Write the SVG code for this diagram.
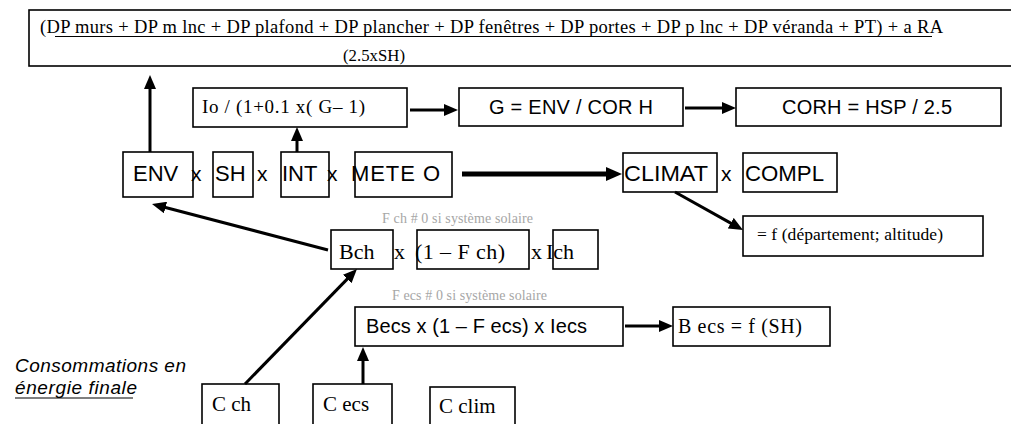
<svg xmlns="http://www.w3.org/2000/svg" width="1011" height="424" viewBox="0 0 1011 424">
<style>
.box{fill:#fff;stroke:#000;stroke-width:1.6}
.serif{font-family:"Liberation Serif","Times New Roman",serif;fill:#000}
.sans{font-family:"Liberation Sans",Arial,sans-serif;fill:#000}
.note{font-family:"Liberation Serif","Times New Roman",serif;fill:#a6a6a6;font-size:14px}
.arr{stroke:#000;stroke-width:3;fill:none;marker-end:url(#ah)}
.arrB{stroke:#000;stroke-width:5;fill:none;marker-end:url(#ahB)}
</style>
<defs>
<marker id="ah" markerUnits="userSpaceOnUse" markerWidth="14" markerHeight="12" refX="2" refY="6" orient="auto">
<path d="M0,0 L14,6 L0,12 z" fill="#000"/>
</marker>
<marker id="ahB" markerUnits="userSpaceOnUse" markerWidth="16" markerHeight="14" refX="2" refY="7" orient="auto">
<path d="M0,0 L16,7 L0,14 z" fill="#000"/>
</marker>
</defs>
<rect width="1011" height="424" fill="#fff"/>

<g id="formula">
<rect class="box" x="29" y="10" width="1000" height="56" stroke-width="2"/>
<text class="serif" x="40" y="33" font-size="18.5" textLength="903" lengthAdjust="spacing">(DP murs + DP m lnc + DP plafond + DP plancher + DP fenêtres + DP portes + DP p lnc + DP véranda + PT) + a RA</text>
<line x1="55" y1="36.5" x2="932" y2="36.5" stroke="#000" stroke-width="1.2"/>
<text class="serif" x="343" y="61" font-size="17.5" textLength="62" lengthAdjust="spacingAndGlyphs">(2.5xSH)</text>
</g>

<g id="io">
<rect class="box" x="193" y="88" width="214" height="39"/>
<text class="serif" x="202" y="113" font-size="19" textLength="163" lengthAdjust="spacing">Io / (1+0.1 x( G– 1)</text>
</g>
<g id="g">
<rect class="box" x="459" y="88" width="224" height="38"/>
<text class="sans" x="489" y="114" font-size="20" textLength="164" lengthAdjust="spacing">G = ENV / COR H</text>
</g>
<g id="corh">
<rect class="box" x="736" y="88" width="265" height="38"/>
<text class="sans" x="782" y="114" font-size="20" textLength="170" lengthAdjust="spacing">CORH = HSP / 2.5</text>
</g>

<g id="env">
<rect class="box" x="123" y="152" width="70" height="45"/>
<text class="sans" x="133" y="181" font-size="22">ENV</text>
</g>
<text class="sans" x="191" y="181" font-size="21">x</text>
<g id="sh">
<rect class="box" x="213" y="152" width="40" height="45"/>
<text class="sans" x="215" y="181" font-size="22">SH</text>
</g>
<text class="sans" x="257" y="181" font-size="21">x</text>
<g id="int">
<rect class="box" x="281" y="152" width="48" height="45"/>
<text class="sans" x="282" y="181" font-size="22">INT</text>
</g>
<text class="sans" x="327" y="181" font-size="21">x</text>
<g id="meteo">
<rect class="box" x="355" y="152" width="97" height="45"/>
<text class="sans" x="351" y="181" font-size="22" textLength="89" lengthAdjust="spacing">METE O</text>
</g>

<g id="climat">
<rect class="box" x="623" y="153" width="94" height="39"/>
<text class="sans" x="624" y="181" font-size="22" textLength="84" lengthAdjust="spacingAndGlyphs">CLIMAT</text>
</g>
<text class="sans" x="721" y="181" font-size="21">x</text>
<g id="compl">
<rect class="box" x="743" y="153" width="94" height="39"/>
<text class="sans" x="745" y="181" font-size="22" textLength="79" lengthAdjust="spacingAndGlyphs">COMPL</text>
</g>

<g id="fdep">
<rect class="box" x="743" y="216" width="240" height="40"/>
<text class="serif" x="757" y="240" font-size="17.5" textLength="186" lengthAdjust="spacing">= f (département; altitude)</text>
</g>

<text class="note" x="382" y="223" textLength="151" lengthAdjust="spacing">F ch # 0 si système solaire</text>
<g id="bch">
<rect class="box" x="331" y="230" width="62" height="39"/>
<text class="serif" x="339" y="259" font-size="22">Bch</text>
</g>
<text class="serif" x="394" y="259" font-size="22">x</text>
<g id="fch">
<rect class="box" x="417" y="230" width="112" height="39"/>
<text class="serif" x="415" y="259" font-size="22" textLength="90" lengthAdjust="spacing">(1 – F ch)</text>
</g>
<text class="serif" x="531" y="259" font-size="22">x</text>
<g id="ich">
<rect class="box" x="553" y="230" width="45" height="39"/>
<text class="serif" x="546" y="259" font-size="22">Ich</text>
</g>

<text class="note" x="392" y="300" textLength="155" lengthAdjust="spacing">F ecs # 0 si système solaire</text>
<g id="becs">
<rect class="box" x="355" y="307" width="268" height="39"/>
<text class="sans" x="366" y="333" font-size="20" textLength="221" lengthAdjust="spacing">Becs x (1 – F ecs) x Iecs</text>
</g>
<g id="becsf">
<rect class="box" x="673" y="307" width="157" height="39"/>
<text class="serif" x="678" y="333" font-size="20" textLength="124" lengthAdjust="spacing">B ecs = f (SH)</text>
</g>

<g id="legend">
<text class="sans" x="15" y="372" font-size="19" font-style="italic" textLength="171" lengthAdjust="spacing">Consommations en</text>
<text class="sans" x="15" y="394" font-size="19" font-style="italic" textLength="122" lengthAdjust="spacing">énergie finale</text>
<line x1="15" y1="398" x2="133" y2="398" stroke="#000" stroke-width="1.2"/>
</g>

<g id="cch">
<rect class="box" x="202" y="384" width="77" height="50"/>
<text class="serif" x="212" y="411" font-size="21">C ch</text>
</g>
<g id="cecs">
<rect class="box" x="313" y="384" width="79" height="50"/>
<text class="serif" x="323" y="411" font-size="21">C ecs</text>
</g>
<g id="cclim">
<rect class="box" x="430" y="387" width="85" height="50"/>
<text class="serif" x="439" y="413" font-size="21">C clim</text>
</g>

<g id="connectors">
<line class="arr" x1="150" y1="152" x2="150" y2="87"/>
<line class="arr" x1="297" y1="152" x2="297" y2="139"/>
<line class="arr" x1="410" y1="110" x2="446" y2="110"/>
<line class="arr" x1="685" y1="108" x2="724" y2="108"/>
<line class="arrB" x1="462" y1="174" x2="608" y2="174"/>
<line class="arr" x1="675" y1="192" x2="732.5" y2="224.1"/>
<line class="arr" x1="328" y1="250" x2="163.6" y2="207"/>
<line class="arr" x1="245" y1="384" x2="348.6" y2="277.6"/>
<line class="arr" x1="363" y1="384" x2="363" y2="359"/>
<line class="arr" x1="625" y1="326" x2="661" y2="326"/>
</g>
</svg>
